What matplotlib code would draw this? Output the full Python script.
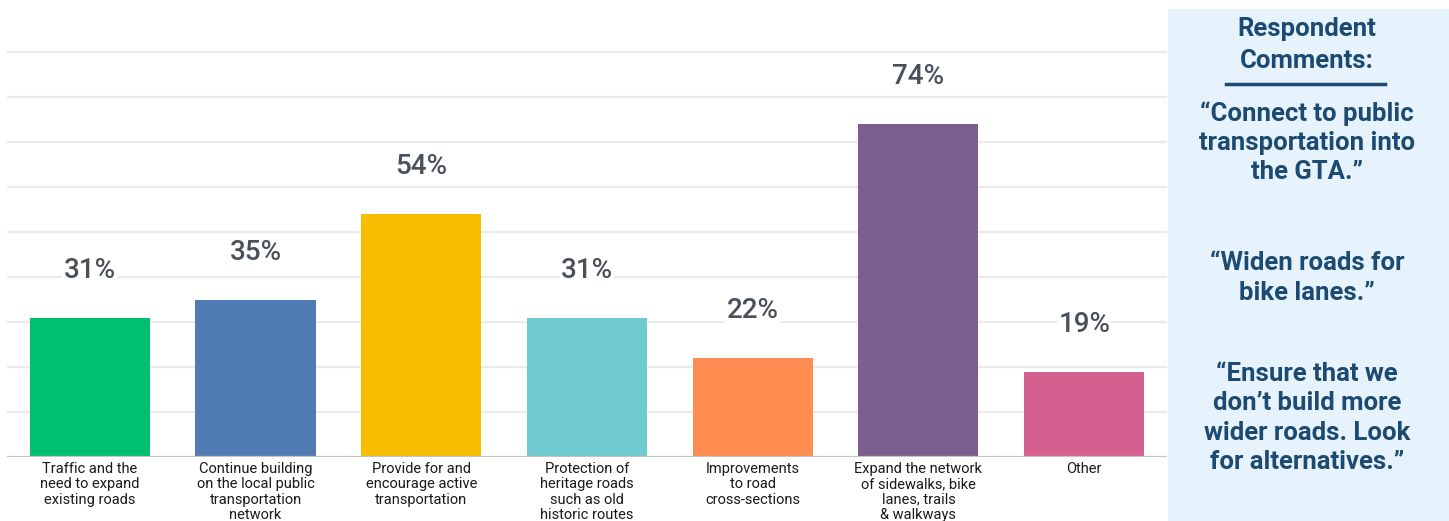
import matplotlib.pyplot as plt
from matplotlib.patches import Rectangle
from matplotlib.lines import Line2D

# Survey results
categories = [
    "Traffic and the\nneed to expand\nexisting roads",
    "Continue building\non the local public\ntransportation\nnetwork",
    "Provide for and\nencourage active\ntransportation",
    "Protection of\nheritage roads\nsuch as old\nhistoric routes",
    "Improvements\nto road\ncross-sections",
    "Expand the network\nof sidewalks, bike\nlanes, trails\n& walkways",
    "Other",
]
percent = [31, 35, 54, 31, 22, 74, 19]
bar_colors = ["#00BF6F", "#507CB6", "#F7BE00", "#6ECACE", "#FF8C50", "#7C5E90", "#D4608F"]

comments = [
    ("\u201cConnect to public\ntransportation into\nthe GTA.\u201d", 143),
    ("\u201cWiden roads for\nbike lanes.\u201d", 278),
    ("\u201cEnsure that we\ndon\u2019t build more\nwider roads. Look\nfor alternatives.\u201d", 418),
]

W, H = 1449, 521
fig = plt.figure(figsize=(W / 100, H / 100), dpi=100)
plt.rcParams['font.family'] = ['Roboto', 'DejaVu Sans']

# chart area in pixel terms
left, right, top, base = 7, 1167, 40, 457
ax = fig.add_axes([left / W, (H - base) / H, (right - left) / W, (base - top) / H])
ax.set_xlim(-0.5, len(percent) - 0.5)
ax.set_ylim(0, (base - top) / 4.5)

x = range(len(percent))
ax.bar(x, percent, width=0.725, color=bar_colors, zorder=3)

for yv in range(10, 100, 10):
    ax.axhline(yv, color="#EBEBEB", lw=1.6, zorder=1)
ax.axhline(0, color="#C4C4C4", lw=1.6, zorder=4)

for i, v in enumerate(percent):
    ax.text(i, v + 10.5, f"{v}%", ha="center", va="center", fontsize=20,
            color="#4A5059", fontweight="medium", zorder=5,
            bbox=dict(facecolor="white", edgecolor="none", pad=1))

for spine in ax.spines.values():
    spine.set_visible(False)
ax.set_yticks([])
ax.set_xticks([])

for i, lab in enumerate(categories):
    ax.annotate(lab, xy=(i, 0), xycoords="data", xytext=(0, -5), textcoords="offset pixels",
                ha="center", va="top", fontsize=10.5, linespacing=1.12, color="#1A1A1A",
                annotation_clip=False)

# side panel with respondent comments
panel = Rectangle((1168 / W, 0), (W - 1168) / W, (H - 9) / H, transform=fig.transFigure,
                  facecolor="#E7F3FC", edgecolor="none", zorder=0)
fig.patches.append(panel)

navy = "#1C4A72"
cx = 1307 / W
fig.text(cx, 1 - 29 / H, "Respondent", ha="center", va="center", fontsize=18.5,
         fontweight="bold", color=navy)
fig.text(cx, 1 - 61 / H, "Comments:", ha="center", va="center", fontsize=18.5,
         fontweight="bold", color=navy)
fig.lines.append(Line2D([1226 / W, 1385 / W], [1 - 84 / H, 1 - 84 / H],
                        transform=fig.transFigure, color=navy, lw=2.5))
for txt, yc in comments:
    fig.text(cx, 1 - yc / H, txt, ha="center", va="center", fontsize=18.5,
             fontweight="bold", color=navy, linespacing=1.27)

fig.savefig("out.png", dpi=100)
